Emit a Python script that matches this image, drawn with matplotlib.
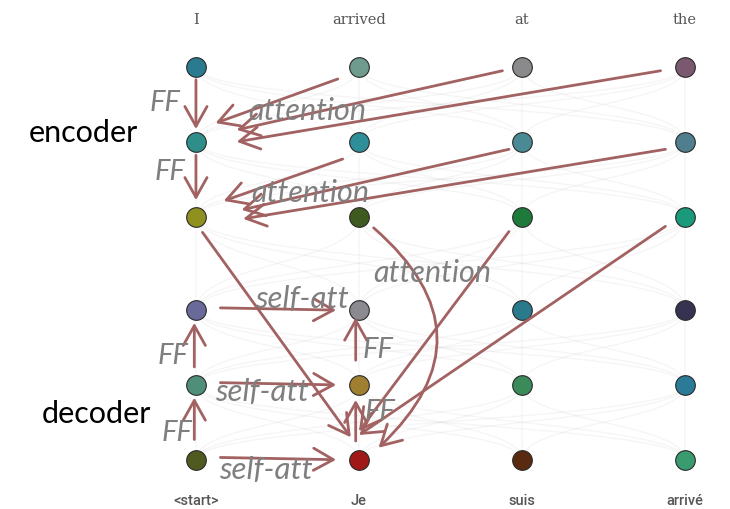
import numpy as np
import matplotlib.pyplot as plt
from matplotlib.patches import FancyArrowPatch
from matplotlib.path import Path
from matplotlib.patches import PathPatch

# words on top (encoder input) and bottom (decoder output)
enc_words = ['I', 'arrived', 'at', 'the']
dec_words = ['<start>', 'Je', 'suis', 'arrivé']

# vertical level of each layer row (3 encoder, 3 decoder)
levels = [0, 1, 2, 3.25, 4.25, 5.25]

# node colours, one row per layer, one column per word
node_colors = [
    ['#2a7a90', '#6f9a8e', '#8a8a8c', '#7a5870'],
    ['#2e8f8a', '#2f8f98', '#4a8a95', '#4f7f8f'],
    ['#8f9020', '#3e5a1e', '#1e7a3a', '#1a9a7a'],
    ['#6a6a9a', '#8a8a90', '#2a7a8e', '#363252'],
    ['#4f8f7a', '#a08030', '#3a8a5a', '#2a7a98'],
    ['#4f5a20', '#a01818', '#5a2a10', '#3a9a70'],
]

arrow_col = '#a36262'
lab_col = '#7f7f7f'

fig = plt.figure(figsize=(7.3, 5.09), dpi=100)
ax = fig.add_axes([0, 0, 1, 1])
ax.set_xlim(-1.202, 3.276)
ax.set_ylim(5.909, -0.896)
ax.axis('off')


def P(col, row, dx=0.0, dy=0.0):
    return (col + dx, levels[row] + dy)


# faint background links between neighbouring layers
for r in range(len(levels) - 1):
    for a in range(4):
        for b in range(4):
            x0, y0 = P(a, r)
            x1, y1 = P(b, r + 1)
            ym = (y0 + y1) / 2
            verts = [(x0, y0), (x0, ym), (x1, ym), (x1, y1)]
            path = Path(verts, [Path.MOVETO, Path.CURVE4, Path.CURVE4, Path.CURVE4])
            ax.add_patch(PathPatch(path, fc='none', ec='#cccccc', lw=1.0, alpha=0.18, zorder=0))

# nodes
for r in range(len(levels)):
    for c in range(4):
        x, y = P(c, r)
        ax.scatter(x, y, s=200, color=node_colors[r][c], edgecolors='#2a2a2a',
                   linewidths=0.8, zorder=3)

# word labels
for c, w in enumerate(enc_words):
    ax.text(c, -0.63, w, ha='center', va='center', fontsize=10.5, color='#555555',
            family='DejaVu Serif')
for c, w in enumerate(dec_words):
    ax.text(c, 5.8, w, ha='center', va='center', fontsize=10.5, color='#555555',
            family='Roboto', weight='medium')


def arrow(p0, p1, rad=0.0):
    a = FancyArrowPatch(p0, p1, arrowstyle='->,head_length=0.75,head_width=0.42',
                        mutation_scale=19, color=arrow_col, lw=2.0,
                        connectionstyle='arc3,rad=%s' % rad, zorder=4,
                        shrinkA=0, shrinkB=0)
    ax.add_patch(a)


# encoder feed-forward
arrow(P(0, 0, 0, 0.17), P(0, 1, 0, -0.17))
arrow(P(0, 1, 0, 0.18), P(0, 2, 0, -0.22))
# encoder attention
arrow(P(1, 0, -0.13, 0.16), P(0, 1, 0.12, -0.25))
arrow(P(2, 0, -0.12, 0.05), P(0, 1, 0.25, -0.16))
arrow(P(3, 0, -0.15, 0.05), P(0, 1, 0.25, 0.0))
arrow(P(1, 1, -0.10, 0.23), P(0, 2, 0.17, -0.21))
arrow(P(2, 1, -0.08, 0.10), P(0, 2, 0.28, -0.09))
arrow(P(3, 1, -0.12, 0.10), P(0, 2, 0.29, 0.03))

# decoder self-attention
for r in [3, 4, 5]:
    arrow(P(0, r, 0.15, -0.03), P(1, r, -0.14, 0.0))
# decoder feed-forward
arrow(P(0, 5, -0.01, -0.27), P(0, 4, -0.01, 0.17))
arrow(P(0, 4, -0.01, -0.24), P(0, 3, -0.01, 0.17))
arrow(P(1, 5, -0.02, -0.25), P(1, 4, -0.02, 0.2))
arrow(P(1, 4, -0.02, -0.33), P(1, 3, -0.02, 0.1))

# cross attention into "Je"
arrow(P(0, 2, 0.04, 0.21), P(1, 5, -0.05, -0.3))
arrow(P(2, 2, -0.08, 0.2), P(1, 5, 0.0, -0.38))
arrow(P(3, 2, -0.12, 0.13), P(1, 5, 0.0, -0.33))
arrow(P(1, 2, 0.09, 0.15), P(1, 5, 0.12, -0.16), rad=-0.55)

# italic labels
lab = dict(color=lab_col, style='italic', family='Lato', ha='center', va='center', zorder=5)
ax.text(-0.19, 0.48, 'FF', fontsize=21, **lab)
ax.text(-0.16, 1.40, 'FF', fontsize=21, **lab)
ax.text(0.68, 0.59, 'attention', fontsize=22, **lab)
ax.text(0.70, 1.68, 'attention', fontsize=22, **lab)
ax.text(1.45, 2.75, 'attention', fontsize=22, **lab)
ax.text(0.65, 3.10, 'self-att', fontsize=22.5, **lab)
ax.text(0.405, 4.345, 'self-att', fontsize=22.5, **lab)
ax.text(0.43, 5.39, 'self-att', fontsize=22.5, **lab)
ax.text(-0.14, 3.86, 'FF', fontsize=21, **lab)
ax.text(-0.117, 4.89, 'FF', fontsize=21, **lab)
ax.text(1.117, 3.78, 'FF', fontsize=21, **lab)
ax.text(1.13, 4.61, 'FF', fontsize=21, **lab)

ax.text(-0.69, 0.88, 'encoder', fontsize=22, color='black', family='Lato',
        ha='center', va='center')
ax.text(-0.61, 4.64, 'decoder', fontsize=22, color='black', family='Lato',
        ha='center', va='center')

fig.savefig('out.png', dpi=100)
